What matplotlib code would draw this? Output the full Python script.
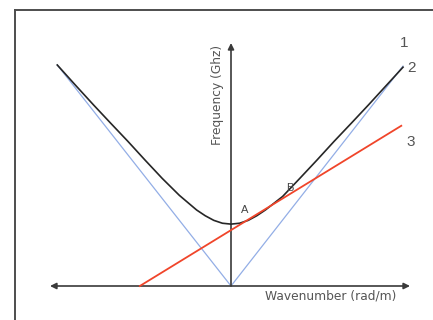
import matplotlib.pyplot as plt

# ---------------------------------------------------------------------
#  Data (k in arbitrary wavenumber units, omega in arbitrary frequency units)
# ---------------------------------------------------------------------
# curve 1: dispersion relation
k_disp = [-1.01, -0.9, -0.8, -0.7, -0.6, -0.5, -0.4, -0.3, -0.2, -0.15, -0.1, -0.05,
          0.0, 0.05, 0.1, 0.15, 0.2, 0.3, 0.4, 0.5, 0.6, 0.7, 0.8, 0.9, 1.0]
omega_disp = [1.0, 0.905, 0.82, 0.737, 0.655, 0.57, 0.487, 0.410, 0.344, 0.318, 0.297, 0.284,
              0.280, 0.284, 0.297, 0.318, 0.344, 0.405, 0.487, 0.57, 0.655, 0.737, 0.82, 0.905, 0.99]

# curve 2: light lines
k_light = [-1.01, 0.0, 1.0]
omega_light = [1.0, 0.0, 0.995]

# curve 3: straight line
k_line = [-0.53, 0.99]
omega_line = [0.0, 0.725]

curve_labels = ["1", "2", "3"]
point_labels = ["A", "B"]
xlabel = "Wavenumber (rad/m)"
ylabel = "Frequency (Ghz)"

# ---------------------------------------------------------------------
#  Figure
# ---------------------------------------------------------------------
W, H = 433, 320
fig = plt.figure(figsize=(W / 100, H / 100), dpi=100)
ax = fig.add_axes([0, 0, 1, 1])
ax.set_axis_off()

# pixel -> data mapping: origin at (231, 286) px
ox, oy, sx, sy = 231, 286, 172, 221
ax.set_xlim(-ox / sx, (W - ox) / sx)
ax.set_ylim((oy - H) / sy, oy / sy)

# outer frame (left and top only visible)
frame_col = "#4d4d4d"
fig.add_artist(plt.Line2D([15 / W, 15 / W], [0, 1 - 10 / H], color=frame_col, lw=1.4,
                          transform=fig.transFigure))
fig.add_artist(plt.Line2D([15 / W, 1], [1 - 10 / H, 1 - 10 / H], color=frame_col, lw=1.4,
                          transform=fig.transFigure))

# axes with arrows
axis_col = "#3a3a3a"
ax.annotate("", xy=((50 - ox) / sx, 0), xytext=((410 - ox) / sx, 0),
            arrowprops=dict(arrowstyle="<|-|>", color=axis_col, lw=1.2,
                            mutation_scale=9, shrinkA=0, shrinkB=0))
ax.annotate("", xy=(0, (oy - 43) / sy), xytext=(0, 0),
            arrowprops=dict(arrowstyle="-|>", color=axis_col, lw=1.2,
                            mutation_scale=9, shrinkA=0, shrinkB=0))

# curves
ax.plot(k_light, omega_light, color="#93aee6", lw=0.9, zorder=2)
ax.plot(k_disp, omega_disp, color="#262626", lw=1.2, zorder=3)
ax.plot(k_line, omega_line, color="#f0452a", lw=1.3, zorder=4)

# labels
lab_col = "#555555"
font = ["Liberation Sans", "DejaVu Sans"]
ax.text((404 - ox) / sx, (oy - 43) / sy, curve_labels[0], fontsize=11, color=lab_col,
        family=font, ha="center", va="center")
ax.text((411 - ox) / sx, (oy - 68) / sy, curve_labels[1], fontsize=11, color=lab_col,
        family=font, ha="center", va="center")
ax.text((411 - ox) / sx, (oy - 142) / sy, curve_labels[2], fontsize=11, color=lab_col,
        family=font, ha="center", va="center")
ax.text((245 - ox) / sx, (oy - 210) / sy, point_labels[0], fontsize=8, color="#444444",
        family=font, ha="center", va="center")
ax.text((290 - ox) / sx, (oy - 188) / sy, point_labels[1], fontsize=8, color="#444444",
        family=font, ha="center", va="center")

ax.text((218 - ox) / sx, (oy - 95) / sy, ylabel, fontsize=8.8, color=lab_col,
        family="DejaVu Sans", rotation=90, ha="center", va="center")
ax.text((331 - ox) / sx, (oy - 296) / sy, xlabel, fontsize=8.8, color=lab_col,
        family="DejaVu Sans", ha="center", va="center")

fig.savefig("out.png", dpi=100)
